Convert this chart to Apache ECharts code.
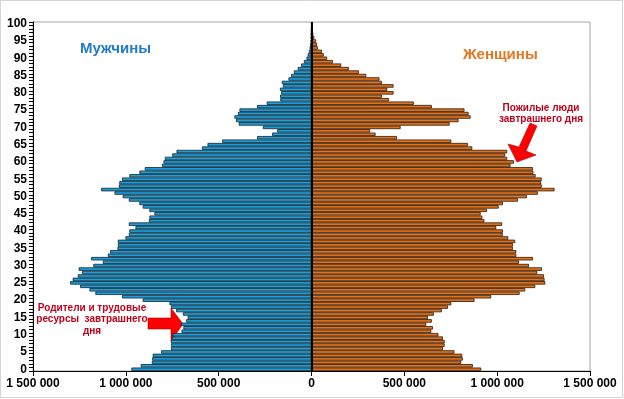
<!DOCTYPE html>
<html>
<head>
<meta charset="utf-8">
<script src="https://cdn.jsdelivr.net/npm/echarts@6/dist/echarts.min.js"></script>
<style>
html,body{margin:0;padding:0;background:#fff;}
#chart{width:624px;height:399px;}
</style>
</head>
<body>
<div id="chart"></div>
<script>
// Ages 0..100
const ages = Array.from({length: 101}, (_, i) => String(i));

// Male population by age (thousands), age 0 .. 100
const maleK = [
  970, 920, 860, 858, 855, 810, 757, 757, 757, 752,
  748, 700, 690, 702, 675, 667, 693, 729, 756, 765,
  909, 1020, 1164, 1196, 1246, 1300, 1286, 1259, 1236, 1254,
  1175, 1124, 1187, 1097, 1085, 1045, 1043, 1043, 1002, 984,
  981, 948, 984, 876, 873, 846, 873, 909, 927, 984,
  1017, 1061, 1133, 1038, 1035, 1020, 981, 927, 898, 805,
  797, 790, 750, 727, 590, 560, 481, 293, 212, 185,
  262, 392, 406, 415, 396, 388, 293, 241, 168, 169,
  163, 170, 154, 160, 124, 110, 95, 74, 56, 41,
  27, 20, 14, 10, 7, 5, 4, 3, 2, 1,
  1
];

// Female population by age (thousands), age 0 .. 100
const femaleK = [
  914, 869, 806, 815, 812, 770, 708, 717, 717, 708,
  684, 645, 654, 618, 648, 627, 659, 702, 735, 753,
  878, 968, 1121, 1151, 1205, 1259, 1255, 1252, 1216, 1241,
  1171, 1117, 1193, 1103, 1103, 1085, 1085, 1097, 1060, 1030,
  1031, 995, 1027, 931, 920, 911, 945, 1008, 1031, 1112,
  1160, 1219, 1309, 1240, 1237, 1240, 1207, 1195, 1193, 1072,
  1090, 1054, 1043, 1054, 866, 842, 753, 460, 345, 316,
  480, 744, 792, 857, 846, 824, 648, 551, 417, 379,
  442, 408, 442, 379, 366, 295, 255, 201, 160, 115,
  84, 66, 56, 34, 30, 25, 15, 10, 6, 4,
  3
];

const xTicks = [-1500000, -1000000, -500000, 0, 500000, 1000000, 1500000];

const fmt = v => String(Math.abs(v)).replace(/\B(?=(\d{3})+(?!\d))/g, ' ');
const FONT = '"Liberation Sans", Arial, sans-serif';

const chart = echarts.init(document.getElementById('chart'), null, {renderer: 'canvas'});

chart.setOption({
  animation: false,
  backgroundColor: '#ffffff',
  grid: {
    left: 33, right: 34, top: 22, bottom: 28,
    show: true, borderColor: '#a6a6a6', borderWidth: 1, backgroundColor: 'transparent'
  },
  xAxis: {
    type: 'value',
    min: xTicks[0], max: xTicks[xTicks.length - 1], interval: 500000,
    axisLine: {show: true, onZero: false, lineStyle: {color: '#000', width: 1}},
    axisTick: {show: true, inside: false, length: 5, lineStyle: {color: '#000'}},
    splitLine: {show: false},
    axisLabel: {
      formatter: fmt, color: '#000', fontFamily: FONT, fontSize: 12, fontWeight: 'bold', margin: 7
    }
  },
  yAxis: {
    type: 'category',
    data: ages,
    boundaryGap: true,
    axisLine: {show: true, onZero: false, lineStyle: {color: '#000', width: 1}},
    axisTick: {show: true, interval: 0, length: 4, lineStyle: {color: '#000'}},
    axisLabel: {
      interval: 4, color: '#000', fontFamily: FONT, fontSize: 12, fontWeight: 'bold', margin: 6
    },
    splitLine: {show: false}
  },
  series: [
    {
      name: 'Мужчины',
      type: 'bar',
      barGap: '-100%',
      barCategoryGap: '0%',
      data: maleK.map(v => -v * 1000),
      itemStyle: {color: '#1d9fd9', borderColor: '#10222e', borderWidth: 0.8},
      markLine: {
        silent: true, symbol: 'none', label: {show: false},
        lineStyle: {color: '#000', width: 2, type: 'solid'},
        data: [{xAxis: 0}]
      }
    },
    {
      name: 'Женщины',
      type: 'bar',
      barGap: '-100%',
      barCategoryGap: '0%',
      data: femaleK.map(v => v * 1000),
      itemStyle: {color: '#e2731d', borderColor: '#2e1806', borderWidth: 0.8}
    }
  ],
  graphic: [
    {type: 'rect', shape: {x: 0.5, y: 0.5, width: 622, height: 397}, style: {fill: 'none', stroke: '#d4d4d4', lineWidth: 1}, silent: true},
    {type: 'text', left: 80, top: 41, style: {text: 'Мужчины', fill: '#1f7cc4', font: 'bold 15px ' + FONT}},
    {type: 'text', left: 463, top: 47, style: {text: 'Женщины', fill: '#e3761e', font: 'bold 15px ' + FONT}},
    {type: 'text', x: 541, y: 103, style: {text: 'Пожилые люди\nзавтрашнего дня', fill: '#c00018', font: 'bold 10px ' + FONT, align: 'center', lineHeight: 10.5}},
    {type: 'text', x: 92, y: 302, style: {text: 'Родители и трудовые\nресурсы  завтрашнего\nдня', fill: '#c00018', font: 'bold 10px ' + FONT, align: 'center', lineHeight: 11.5}},
    {type: 'polygon', shape: {points: [[148,318],[171,318],[171,308],[183,324],[171,341],[171,329],[148,329]]}, style: {fill: '#ff0000', stroke: '#b00000', lineWidth: 0.6}, silent: true},
    {type: 'polygon', shape: {points: [[530,123],[537,126],[526,151],[536,155],[517,162],[508,144],[519,147]]}, style: {fill: '#ff0000', stroke: '#b00000', lineWidth: 0.6}, silent: true}
  ]
});
</script>
</body>
</html>
